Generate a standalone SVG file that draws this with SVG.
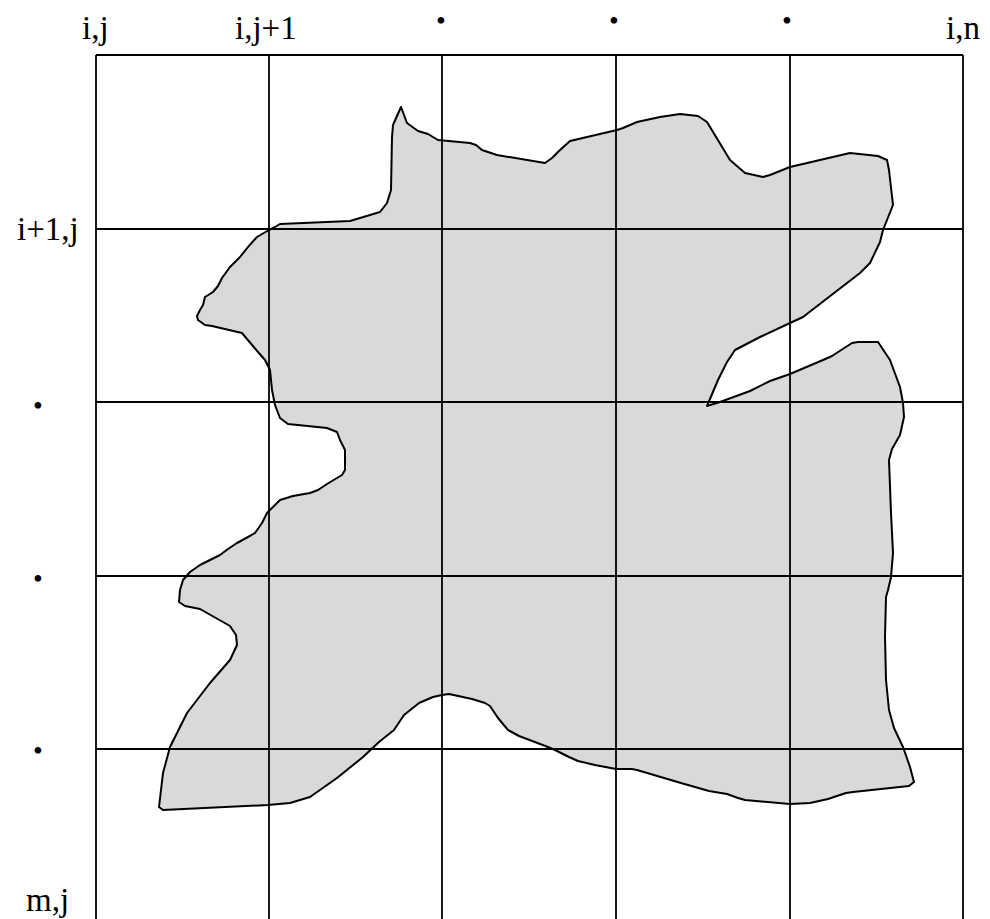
<svg xmlns="http://www.w3.org/2000/svg" width="990" height="919" viewBox="0 0 990 919">
<style>
.lbl{font-family:"Liberation Serif","Times New Roman",serif;font-size:33px;fill:#000}
.dot{font-family:"Liberation Serif","Times New Roman",serif;font-size:28px;fill:#000}
.grid{stroke:#000;stroke-width:1.8;fill:none}
.shape{fill:#d9d9d9;stroke:#000;stroke-width:2;stroke-linejoin:round}
</style>
<rect width="990" height="919" fill="#fff"/>
<g id="region">
<polygon class="shape" points="401,107 407,123 418,131 428,134 438,140 470,143 476,145 482,150 497,155 545,163 552,158 560,150 570,141 617,130 623,128 637,122 660,117 680,114 698,116 707,122 730,160 745,173 763,177 770,175 790,167 850,153 878,156 887,160 889,170 893,205 883,230 880,242 870,263 860,273 803,317 790,323 760,337 735,350 727,362 718,380 707,406 720,402 750,391 770,381 790,374 823,360 832,356 852,343 858,342 878,342 890,360 900,387 903,403 904,417 900,435 892,449 889,460 891,513 893,553 891,577 888,590 886,597 885,637 886,680 889,710 894,728 903,747 910,767 914,782 909,786 853,792 846,793 828,799 810,803 790,804 745,800 738,798 727,794 709,791 681,783 637,770 632,769 616,769 595,765 578,761 569,757 555,750 548,747 519,736 508,730 498,718 490,706 485,703 472,699 449,694 442,695 433,697 419,703 404,715 394,730 379,742 363,757 337,778 310,797 290,803 268,805 163,810 159,807 163,773 170,747 187,713 210,683 230,660 237,645 236,635 230,626 200,609 185,606 179,602 180,590 183,580 190,572 200,565 220,555 228,549 237,543 248,537 255,533 262,523 267,513 273,507 280,500 293,496 310,493 318,490 327,484 342,475 345,470 345,450 340,440 337,432 327,428 288,424 280,418 275,405 272,390 270,370 265,360 258,352 247,339 242,333 212,326 205,325 198,320 197,316 200,310 203,305 205,297 213,292 218,286 222,278 230,267 240,257 248,247 257,237 269,230 275,227 280,224 350,221 380,212 387,203 391,190 392,137 393,125"/>
</g>
<g id="grid" class="grid">
<line x1="96" y1="55" x2="963" y2="55"/>
<line x1="96" y1="229" x2="963" y2="229"/>
<line x1="96" y1="402" x2="963" y2="402"/>
<line x1="96" y1="576" x2="963" y2="576"/>
<line x1="96" y1="749" x2="963" y2="749"/>
<line x1="96" y1="55" x2="96" y2="919"/>
<line x1="269" y1="55" x2="269" y2="919"/>
<line x1="442" y1="55" x2="442" y2="919"/>
<line x1="616" y1="55" x2="616" y2="919"/>
<line x1="790" y1="55" x2="790" y2="919"/>
<line x1="963" y1="55" x2="963" y2="919"/>
</g>
<g id="labels">
<text class="lbl" x="82" y="39">i,j</text>
<text class="lbl" x="235" y="39">i,j+1</text>
<text class="dot" x="441" y="30" text-anchor="middle">•</text>
<text class="dot" x="614" y="30" text-anchor="middle">•</text>
<text class="dot" x="787" y="30" text-anchor="middle">•</text>
<text class="lbl" x="946" y="39">i,n</text>
<text class="lbl" x="17" y="240">i+1,j</text>
<text class="dot" x="38" y="415" text-anchor="middle">•</text>
<text class="dot" x="38" y="588" text-anchor="middle">•</text>
<text class="dot" x="38" y="760" text-anchor="middle">•</text>
<text class="lbl" x="26" y="911">m,j</text>
</g>
</svg>
